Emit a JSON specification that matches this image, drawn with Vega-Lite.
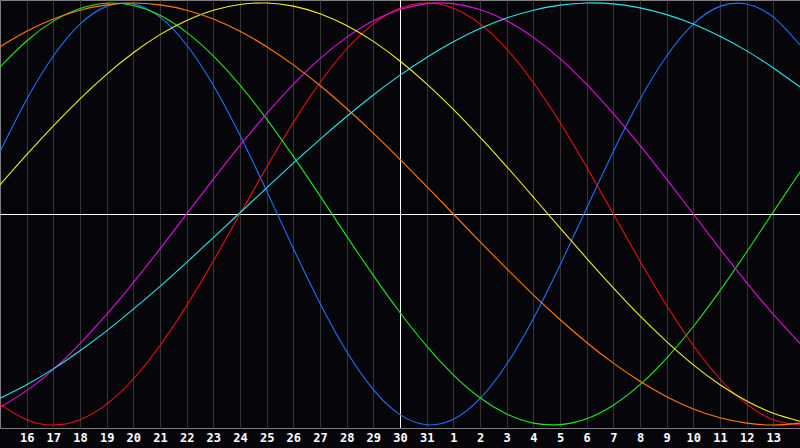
{
  "$schema": "https://vega.github.io/schema/vega-lite/v6.json",
  "width": 800,
  "height": 428,
  "autosize": {"type": "none"},
  "padding": {"left": 0, "top": 0, "right": 0, "bottom": 20},
  "background": "#06060a",
  "config": {
    "view": {"stroke": "#808080", "strokeWidth": 1},
    "axis": {"labelOverlap": false, "labelBound": false, "labelFlush": false}
  },
  "layer": [
    {
      "data": {"values": [{"k": 15}]},
      "mark": {"type": "rule", "color": "#ffffff", "strokeWidth": 1, "xOffset": 0.5},
      "encoding": {"x": {"field": "k", "type": "quantitative",
        "axis": {
            "values": [1,2,3,4,5,6,7,8,9,10,11,12,13,14,15,16,17,18,19,20,21,22,23,24,25,26,27,28,29],
            "labelExpr": "datum.value <= 16 ? datum.value + 15 : datum.value - 16",
            "grid": true, "gridColor": "#353535", "gridWidth": 1, "gridOpacity": 1,
            "ticks": false, "domain": false, "title": null,
            "labelColor": "#ffffff", "labelFont": "DejaVu Sans Mono", "labelFontWeight": "bold",
            "labelFontSize": 12, "labelPadding": 4, "labelFlush": false, "labelOverlap": false
        }}}
    },
    {
      "data": {"values": [{"v": 0}]},
      "mark": {"type": "rule", "color": "#ffffff", "strokeWidth": 1, "yOffset": 0.5},
      "encoding": {"y": {"field": "v", "type": "quantitative",
        "axis": {"labels": false, "ticks": false, "domain": false, "grid": false, "title": null}}}
    },
    {
      "data": {"values": [
      {"c":"Physical","k":0,"v":0.296},{"c":"Physical","k":1,"v":0.543},{"c":"Physical","k":2,"v":0.749},{"c":"Physical","k":3,"v":0.900},{"c":"Physical","k":4,"v":0.984},{"c":"Physical","k":5,"v":0.995},{"c":"Physical","k":6,"v":0.933},{"c":"Physical","k":7,"v":0.801},{"c":"Physical","k":8,"v":0.610},{"c":"Physical","k":9,"v":0.373},{"c":"Physical","k":10,"v":0.109},{"c":"Physical","k":11,"v":-0.163},{"c":"Physical","k":12,"v":-0.423},{"c":"Physical","k":13,"v":-0.652},{"c":"Physical","k":14,"v":-0.832},{"c":"Physical","k":15,"v":-0.951},{"c":"Physical","k":16,"v":-0.999},{"c":"Physical","k":17,"v":-0.973},{"c":"Physical","k":18,"v":-0.875},{"c":"Physical","k":19,"v":-0.712},{"c":"Physical","k":20,"v":-0.496},{"c":"Physical","k":21,"v":-0.243},{"c":"Physical","k":22,"v":0.027},{"c":"Physical","k":23,"v":0.296},{"c":"Physical","k":24,"v":0.543},{"c":"Physical","k":25,"v":0.749},{"c":"Physical","k":26,"v":0.900},{"c":"Physical","k":27,"v":0.984},{"c":"Physical","k":28,"v":0.995},{"c":"Physical","k":29,"v":0.933},{"c":"Physical","k":30,"v":0.801},
      {"c":"Emotional","k":0,"v":-0.901},{"c":"Emotional","k":1,"v":-0.975},{"c":"Emotional","k":2,"v":-1.000},{"c":"Emotional","k":3,"v":-0.975},{"c":"Emotional","k":4,"v":-0.901},{"c":"Emotional","k":5,"v":-0.782},{"c":"Emotional","k":6,"v":-0.623},{"c":"Emotional","k":7,"v":-0.434},{"c":"Emotional","k":8,"v":-0.223},{"c":"Emotional","k":9,"v":0.000},{"c":"Emotional","k":10,"v":0.223},{"c":"Emotional","k":11,"v":0.434},{"c":"Emotional","k":12,"v":0.623},{"c":"Emotional","k":13,"v":0.782},{"c":"Emotional","k":14,"v":0.901},{"c":"Emotional","k":15,"v":0.975},{"c":"Emotional","k":16,"v":1.000},{"c":"Emotional","k":17,"v":0.975},{"c":"Emotional","k":18,"v":0.901},{"c":"Emotional","k":19,"v":0.782},{"c":"Emotional","k":20,"v":0.623},{"c":"Emotional","k":21,"v":0.434},{"c":"Emotional","k":22,"v":0.223},{"c":"Emotional","k":23,"v":0.000},{"c":"Emotional","k":24,"v":-0.223},{"c":"Emotional","k":25,"v":-0.434},{"c":"Emotional","k":26,"v":-0.623},{"c":"Emotional","k":27,"v":-0.782},{"c":"Emotional","k":28,"v":-0.901},{"c":"Emotional","k":29,"v":-0.975},{"c":"Emotional","k":30,"v":-1.000},
      {"c":"Intellectual","k":0,"v":0.697},{"c":"Intellectual","k":1,"v":0.820},{"c":"Intellectual","k":2,"v":0.914},{"c":"Intellectual","k":3,"v":0.974},{"c":"Intellectual","k":4,"v":0.999},{"c":"Intellectual","k":5,"v":0.988},{"c":"Intellectual","k":6,"v":0.942},{"c":"Intellectual","k":7,"v":0.861},{"c":"Intellectual","k":8,"v":0.749},{"c":"Intellectual","k":9,"v":0.611},{"c":"Intellectual","k":10,"v":0.450},{"c":"Intellectual","k":11,"v":0.273},{"c":"Intellectual","k":12,"v":0.086},{"c":"Intellectual","k":13,"v":-0.105},{"c":"Intellectual","k":14,"v":-0.291},{"c":"Intellectual","k":15,"v":-0.467},{"c":"Intellectual","k":16,"v":-0.626},{"c":"Intellectual","k":17,"v":-0.762},{"c":"Intellectual","k":18,"v":-0.871},{"c":"Intellectual","k":19,"v":-0.948},{"c":"Intellectual","k":20,"v":-0.991},{"c":"Intellectual","k":21,"v":-0.998},{"c":"Intellectual","k":22,"v":-0.970},{"c":"Intellectual","k":23,"v":-0.906},{"c":"Intellectual","k":24,"v":-0.809},{"c":"Intellectual","k":25,"v":-0.683},{"c":"Intellectual","k":26,"v":-0.533},{"c":"Intellectual","k":27,"v":-0.363},{"c":"Intellectual","k":28,"v":-0.180},{"c":"Intellectual","k":29,"v":0.010},{"c":"Intellectual","k":30,"v":0.199},
      {"c":"Intuitive","k":0,"v":-0.916},{"c":"Intuitive","k":1,"v":-0.837},{"c":"Intuitive","k":2,"v":-0.736},{"c":"Intuitive","k":3,"v":-0.614},{"c":"Intuitive","k":4,"v":-0.476},{"c":"Intuitive","k":5,"v":-0.325},{"c":"Intuitive","k":6,"v":-0.165},{"c":"Intuitive","k":7,"v":0.000},{"c":"Intuitive","k":8,"v":0.165},{"c":"Intuitive","k":9,"v":0.325},{"c":"Intuitive","k":10,"v":0.476},{"c":"Intuitive","k":11,"v":0.614},{"c":"Intuitive","k":12,"v":0.736},{"c":"Intuitive","k":13,"v":0.837},{"c":"Intuitive","k":14,"v":0.916},{"c":"Intuitive","k":15,"v":0.969},{"c":"Intuitive","k":16,"v":0.997},{"c":"Intuitive","k":17,"v":0.997},{"c":"Intuitive","k":18,"v":0.969},{"c":"Intuitive","k":19,"v":0.916},{"c":"Intuitive","k":20,"v":0.837},{"c":"Intuitive","k":21,"v":0.736},{"c":"Intuitive","k":22,"v":0.614},{"c":"Intuitive","k":23,"v":0.476},{"c":"Intuitive","k":24,"v":0.325},{"c":"Intuitive","k":25,"v":0.165},{"c":"Intuitive","k":26,"v":0.000},{"c":"Intuitive","k":27,"v":-0.165},{"c":"Intuitive","k":28,"v":-0.325},{"c":"Intuitive","k":29,"v":-0.476},{"c":"Intuitive","k":30,"v":-0.614},
      {"c":"Aesthetic","k":0,"v":0.138},{"c":"Aesthetic","k":1,"v":0.281},{"c":"Aesthetic","k":2,"v":0.418},{"c":"Aesthetic","k":3,"v":0.546},{"c":"Aesthetic","k":4,"v":0.662},{"c":"Aesthetic","k":5,"v":0.764},{"c":"Aesthetic","k":6,"v":0.850},{"c":"Aesthetic","k":7,"v":0.917},{"c":"Aesthetic","k":8,"v":0.966},{"c":"Aesthetic","k":9,"v":0.993},{"c":"Aesthetic","k":10,"v":1.000},{"c":"Aesthetic","k":11,"v":0.985},{"c":"Aesthetic","k":12,"v":0.949},{"c":"Aesthetic","k":13,"v":0.893},{"c":"Aesthetic","k":14,"v":0.818},{"c":"Aesthetic","k":15,"v":0.725},{"c":"Aesthetic","k":16,"v":0.617},{"c":"Aesthetic","k":17,"v":0.496},{"c":"Aesthetic","k":18,"v":0.364},{"c":"Aesthetic","k":19,"v":0.225},{"c":"Aesthetic","k":20,"v":0.080},{"c":"Aesthetic","k":21,"v":-0.066},{"c":"Aesthetic","k":22,"v":-0.210},{"c":"Aesthetic","k":23,"v":-0.350},{"c":"Aesthetic","k":24,"v":-0.483},{"c":"Aesthetic","k":25,"v":-0.605},{"c":"Aesthetic","k":26,"v":-0.715},{"c":"Aesthetic","k":27,"v":-0.809},{"c":"Aesthetic","k":28,"v":-0.886},{"c":"Aesthetic","k":29,"v":-0.944},{"c":"Aesthetic","k":30,"v":-0.982},
      {"c":"Awareness","k":0,"v":0.793},{"c":"Awareness","k":1,"v":0.866},{"c":"Awareness","k":2,"v":0.924},{"c":"Awareness","k":3,"v":0.966},{"c":"Awareness","k":4,"v":0.991},{"c":"Awareness","k":5,"v":1.000},{"c":"Awareness","k":6,"v":0.991},{"c":"Awareness","k":7,"v":0.966},{"c":"Awareness","k":8,"v":0.924},{"c":"Awareness","k":9,"v":0.866},{"c":"Awareness","k":10,"v":0.793},{"c":"Awareness","k":11,"v":0.707},{"c":"Awareness","k":12,"v":0.609},{"c":"Awareness","k":13,"v":0.500},{"c":"Awareness","k":14,"v":0.383},{"c":"Awareness","k":15,"v":0.259},{"c":"Awareness","k":16,"v":0.131},{"c":"Awareness","k":17,"v":0.000},{"c":"Awareness","k":18,"v":-0.131},{"c":"Awareness","k":19,"v":-0.259},{"c":"Awareness","k":20,"v":-0.383},{"c":"Awareness","k":21,"v":-0.500},{"c":"Awareness","k":22,"v":-0.609},{"c":"Awareness","k":23,"v":-0.707},{"c":"Awareness","k":24,"v":-0.793},{"c":"Awareness","k":25,"v":-0.866},{"c":"Awareness","k":26,"v":-0.924},{"c":"Awareness","k":27,"v":-0.966},{"c":"Awareness","k":28,"v":-0.991},{"c":"Awareness","k":29,"v":-1.000},{"c":"Awareness","k":30,"v":-0.991},
      {"c":"Spiritual","k":0,"v":-0.873},{"c":"Spiritual","k":1,"v":-0.809},{"c":"Spiritual","k":2,"v":-0.734},{"c":"Spiritual","k":3,"v":-0.648},{"c":"Spiritual","k":4,"v":-0.554},{"c":"Spiritual","k":5,"v":-0.451},{"c":"Spiritual","k":6,"v":-0.343},{"c":"Spiritual","k":7,"v":-0.229},{"c":"Spiritual","k":8,"v":-0.112},{"c":"Spiritual","k":9,"v":0.006},{"c":"Spiritual","k":10,"v":0.124},{"c":"Spiritual","k":11,"v":0.241},{"c":"Spiritual","k":12,"v":0.354},{"c":"Spiritual","k":13,"v":0.462},{"c":"Spiritual","k":14,"v":0.564},{"c":"Spiritual","k":15,"v":0.658},{"c":"Spiritual","k":16,"v":0.742},{"c":"Spiritual","k":17,"v":0.816},{"c":"Spiritual","k":18,"v":0.879},{"c":"Spiritual","k":19,"v":0.929},{"c":"Spiritual","k":20,"v":0.966},{"c":"Spiritual","k":21,"v":0.990},{"c":"Spiritual","k":22,"v":1.000},{"c":"Spiritual","k":23,"v":0.996},{"c":"Spiritual","k":24,"v":0.977},{"c":"Spiritual","k":25,"v":0.945},{"c":"Spiritual","k":26,"v":0.900},{"c":"Spiritual","k":27,"v":0.842},{"c":"Spiritual","k":28,"v":0.773},{"c":"Spiritual","k":29,"v":0.692},{"c":"Spiritual","k":30,"v":0.602}
      ]},
      "mark": {"type": "line", "strokeWidth": 1.1, "interpolate": "natural", "clip": true},
      "encoding": {
        "x": {
          "field": "k", "type": "quantitative",
          "scale": {"domain": [0, 30], "nice": false, "zero": false},
          "axis": {
            "values": [1,2,3,4,5,6,7,8,9,10,11,12,13,14,15,16,17,18,19,20,21,22,23,24,25,26,27,28,29],
            "labelExpr": "datum.value <= 16 ? datum.value + 15 : datum.value - 16",
            "grid": true, "gridColor": "#353535", "gridWidth": 1, "gridOpacity": 1,
            "ticks": false, "domain": false, "title": null,
            "labelColor": "#ffffff", "labelFont": "DejaVu Sans Mono", "labelFontWeight": "bold",
            "labelFontSize": 12, "labelPadding": 4, "labelFlush": false, "labelOverlap": false
          }
        },
        "y": {
          "field": "v", "type": "quantitative",
          "scale": {"domain": [-1.0142, 1.0142], "nice": false, "zero": false},
          "axis": {"labels": false, "ticks": false, "domain": false, "grid": false, "title": null}
        },
        "color": {
          "field": "c", "type": "nominal",
          "scale": {
            "domain": ["Spiritual", "Awareness", "Aesthetic", "Intuitive", "Emotional", "Intellectual", "Physical"],
            "range": ["#20e8e8", "#ff7a00", "#f0f020", "#e010e0", "#f01010", "#22e622", "#2070ff"]
          },
          "legend": null
        }
      }
    }
  ]
}
